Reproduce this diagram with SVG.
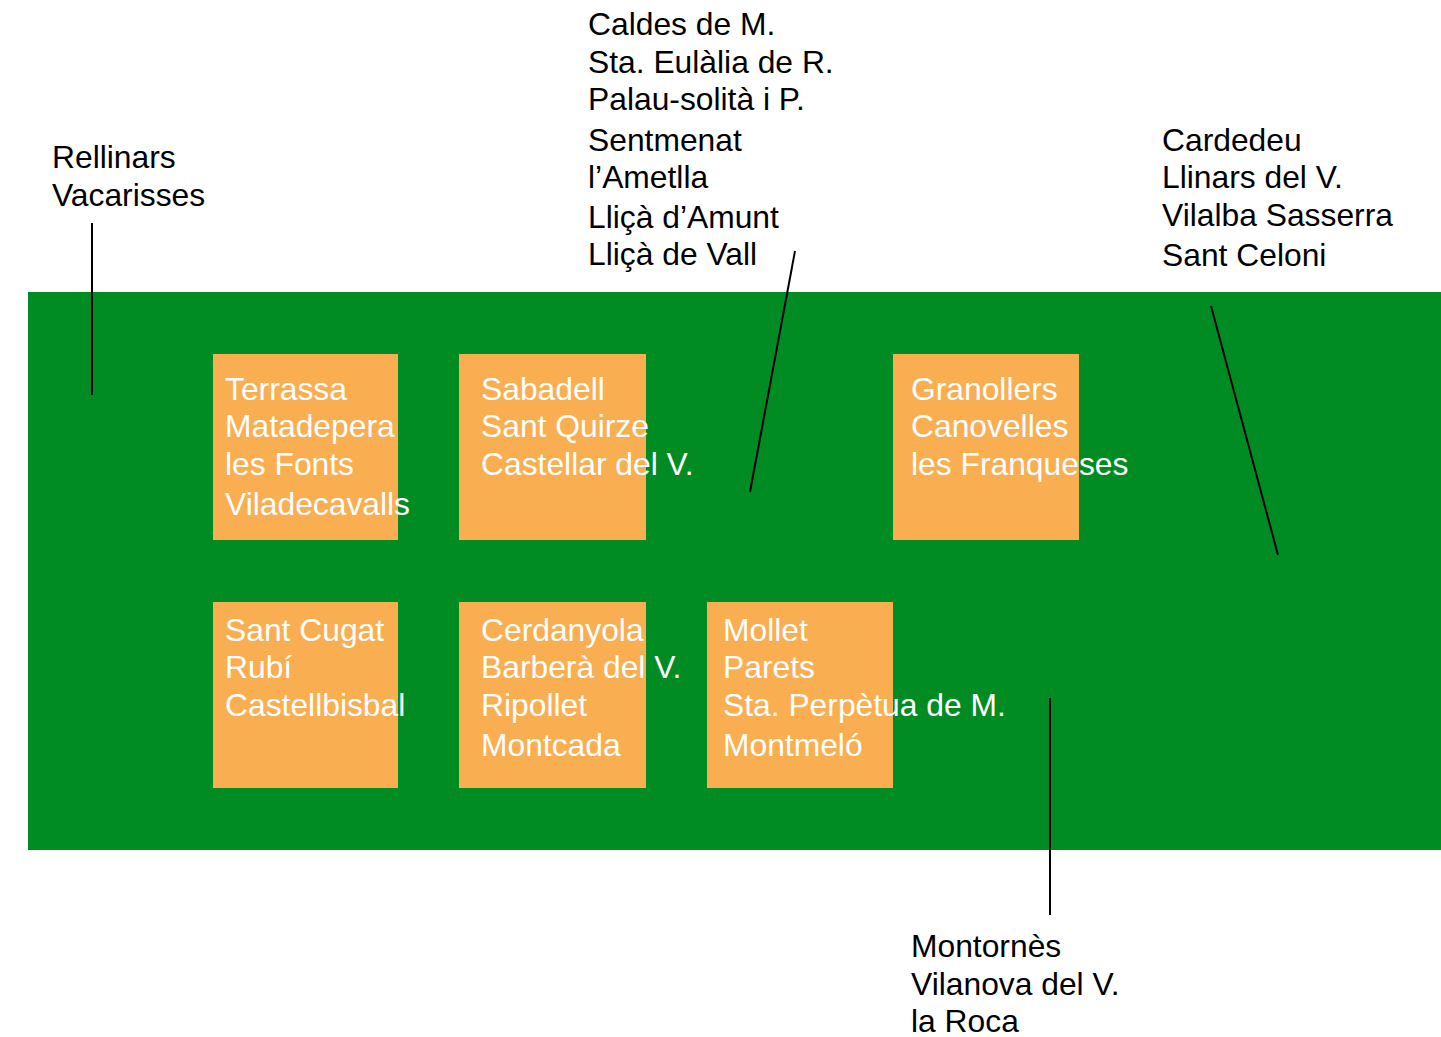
<svg xmlns="http://www.w3.org/2000/svg" width="1441" height="1037" viewBox="0 0 1441 1037">
<style>
text{font-family:"Liberation Sans",Arial,sans-serif;font-size:31.8px}
.w{fill:#ffffff}
.b{fill:#000000}
.box{fill:#f9ae52}
.ln{stroke:#000;stroke-width:2;fill:none}
</style>
<rect width="1441" height="1037" fill="#ffffff"/>
<g id="region"><rect x="28" y="292" width="1413" height="558" fill="#008c23"/></g>
<g id="terrassa"><rect class="box" x="213" y="354" width="185" height="186"/>
<text class="w" x="225" y="400">Terrassa</text><text class="w" x="225" y="437">Matadepera</text><text class="w" x="225" y="475">les Fonts</text><text class="w" x="225" y="515">Viladecavalls</text></g>
<g id="sabadell"><rect class="box" x="459" y="354" width="187" height="186"/>
<text class="w" x="481" y="400">Sabadell</text><text class="w" x="481" y="437">Sant Quirze</text><text class="w" x="481" y="475">Castellar del V.</text></g>
<g id="granollers"><rect class="box" x="893" y="354" width="186" height="186"/>
<text class="w" x="911" y="400">Granollers</text><text class="w" x="911" y="437">Canovelles</text><text class="w" x="911" y="475">les Franqueses</text></g>
<g id="santcugat"><rect class="box" x="213" y="602" width="185" height="186"/>
<text class="w" x="225" y="641">Sant Cugat</text><text class="w" x="225" y="678">Rubí</text><text class="w" x="225" y="716">Castellbisbal</text></g>
<g id="cerdanyola"><rect class="box" x="459" y="602" width="187" height="186"/>
<text class="w" x="481" y="641">Cerdanyola</text><text class="w" x="481" y="678">Barberà del V.</text><text class="w" x="481" y="716">Ripollet</text><text class="w" x="481" y="756">Montcada</text></g>
<g id="mollet"><rect class="box" x="707" y="602" width="186" height="186"/>
<text class="w" x="723" y="641">Mollet</text><text class="w" x="723" y="678">Parets</text><text class="w" x="723" y="716">Sta. Perpètua de M.</text><text class="w" x="723" y="756">Montmeló</text></g>
<g id="rellinars"><text class="b" x="52" y="168">Rellinars</text><text class="b" x="52" y="206">Vacarisses</text></g>
<g id="caldes"><text class="b" x="588" y="35">Caldes de M.</text><text class="b" x="588" y="73">Sta. Eulàlia de R.</text><text class="b" x="588" y="110">Palau-solità i P.</text><text class="b" x="588" y="151">Sentmenat</text><text class="b" x="588" y="188">l’Ametlla</text><text class="b" x="588" y="228">Lliçà d’Amunt</text><text class="b" x="588" y="265">Lliçà de Vall</text></g>
<g id="cardedeu"><text class="b" x="1162" y="151">Cardedeu</text><text class="b" x="1162" y="188">Llinars del V.</text><text class="b" x="1162" y="226">Vilalba Sasserra</text><text class="b" x="1162" y="266">Sant Celoni</text></g>
<g id="montornes"><text class="b" x="911" y="957">Montornès</text><text class="b" x="911" y="995">Vilanova del V.</text><text class="b" x="911" y="1032">la Roca</text></g>
<g id="connectors">
<line class="ln" x1="92" y1="223" x2="92" y2="395"/>
<line class="ln" x1="795" y1="251" x2="750" y2="492"/>
<line class="ln" x1="1211" y1="306" x2="1278" y2="555"/>
<line class="ln" x1="1050" y1="698" x2="1050" y2="915"/>
</g>
</svg>
